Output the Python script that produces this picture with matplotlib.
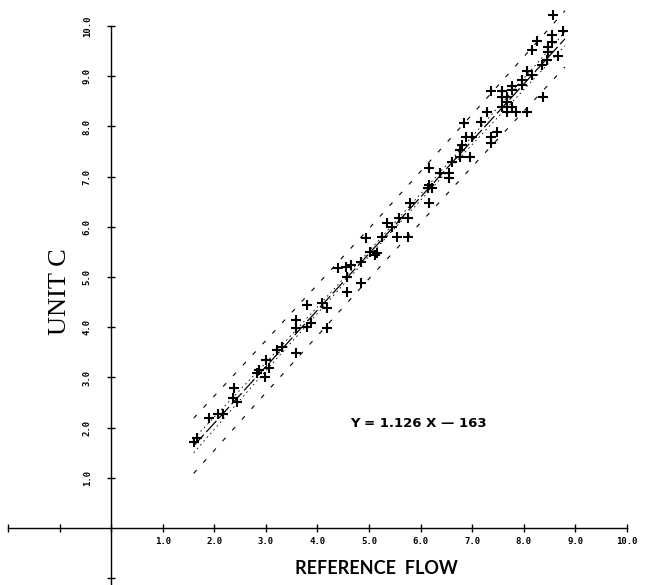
import numpy as np
import matplotlib
matplotlib.use("Agg")
import matplotlib.pyplot as plt

# scatter data (reference flow vs unit C)
x_vals = [1.61, 1.67, 1.90, 2.08, 2.16, 2.39, 2.37, 2.45,
          2.83, 2.87, 2.99, 3.01, 3.07, 3.22,
          3.32, 3.59, 3.59, 3.59, 3.79, 3.88, 3.79, 4.08, 4.19, 4.19,
          4.39, 4.58, 4.58, 4.66, 4.85, 4.85, 4.95, 5.01, 5.11, 5.15, 4.56,
          5.34, 5.44, 5.26, 5.55, 5.75, 5.59, 5.75, 5.79, 6.16, 6.16, 6.16, 6.23, 6.14,
          6.37, 6.56, 6.56, 6.60, 6.76, 6.76, 6.80, 6.89, 6.99, 6.95, 6.85, 7.18,
          7.36, 7.36, 7.48, 7.28, 7.36, 7.57, 7.57, 7.67, 7.67, 7.57, 7.67, 7.77,
          7.77, 7.77, 7.86, 8.06, 7.96, 7.96, 8.06, 8.16, 8.16, 8.25, 8.35, 8.37,
          8.45, 8.47, 8.47, 8.54, 8.54, 8.66, 8.56, 8.76]
y_vals = [1.71, 1.79, 2.19, 2.27, 2.27, 2.79, 2.59, 2.51,
          3.09, 3.15, 3.01, 3.35, 3.19, 3.55,
          3.61, 3.49, 4.14, 3.98, 4.44, 4.08, 4.00, 4.48, 4.38, 3.98,
          5.18, 5.00, 4.70, 5.24, 5.30, 4.88, 5.78, 5.50, 5.44, 5.48, 5.20,
          6.08, 6.00, 5.80, 5.80, 5.80, 6.18, 6.18, 6.47, 6.47, 7.17, 6.83, 6.77, 6.77,
          7.07, 7.07, 6.97, 7.29, 7.39, 7.53, 7.63, 7.79, 7.79, 7.39, 8.07, 8.09,
          7.79, 7.67, 7.89, 8.29, 8.71, 8.71, 8.59, 8.59, 8.49, 8.39, 8.29, 8.39,
          8.73, 8.80, 8.29, 8.29, 8.82, 8.92, 9.10, 9.02, 9.52, 9.70, 9.22, 8.59,
          9.32, 9.48, 9.58, 9.68, 9.82, 9.40, 10.22, 9.90]

# fitted line as printed on the chart
slope = 1.126
intercept = -0.163
fit_label = "Y = 1.126 X \u2014 163"

# band half-widths
band_x = [1.6, 3.0, 5.0, 7.0, 8.8]
inner_hw = [0.14, 0.08, 0.05, 0.08, 0.14]
outer_hw = [0.55, 0.52, 0.50, 0.52, 0.56]

x_ticks = [1, 2, 3, 4, 5, 6, 7, 8, 9, 10]
y_ticks = [1, 2, 3, 4, 5, 6, 7, 8, 9, 10]
tick_labels = ["1.0", "2.0", "3.0", "4.0", "5.0", "6.0", "7.0", "8.0", "9.0", "10.0"]

fig = plt.figure(figsize=(6.48, 5.85), dpi=100)
ax = fig.add_axes([0, 0, 1, 1])
ax.set_xlim(-2.155, 10.41)
ax.set_ylim(-1.135, 10.52)

for s in ["top", "right"]:
    ax.spines[s].set_visible(False)
ax.spines["left"].set_position(("data", 0))
ax.spines["bottom"].set_position(("data", 0))
ax.spines["bottom"].set_bounds(-2, 10)
ax.spines["left"].set_bounds(-1.135, 10)
for s in ["left", "bottom"]:
    ax.spines[s].set_linewidth(1.0)

ax.set_xticks([-2, -1, 0] + x_ticks)
ax.set_xticklabels(["", "", ""] + tick_labels, fontsize=6.5,
                   family="DejaVu Sans Mono", fontweight="bold")
ax.set_yticks([-1] + y_ticks)
ax.set_yticklabels([""] + tick_labels, fontsize=6.5, rotation=90,
                   va="center", family="DejaVu Sans Mono", fontweight="bold")
ax.tick_params(axis="x", direction="inout", length=6, width=1, pad=3.5)
ax.tick_params(axis="y", direction="inout", length=6, width=1, pad=11)

# regression line and bands
bx = np.array(band_x)
fit = slope * bx + intercept
ax.plot(bx, fit, color="black", lw=0.9, dashes=(12, 3))
for sign in (1, -1):
    ax.plot(bx, fit + sign * np.array(inner_hw), color="black", lw=0.6, dashes=(2, 4))
    ax.plot(bx, fit + sign * np.array(outer_hw), color="black", lw=0.8, dashes=(4, 9))

ax.plot(x_vals, y_vals, "+", color="black", markersize=7, mew=1.5)

ax.text(5.96, 2.09, fit_label, ha="center", va="center", fontsize=9.5,
        family="DejaVu Sans", fontweight="semibold")

ax.text(-1.0, 4.70, "UNIT C", rotation=90, ha="center", va="center",
        fontsize=19, family="Liberation Serif")
ax.text(5.15, -0.8, "REFERENCE  FLOW", ha="center", va="center",
        fontsize=13, family="Lato", fontweight="bold")

fig.savefig("out.png", dpi=100)
